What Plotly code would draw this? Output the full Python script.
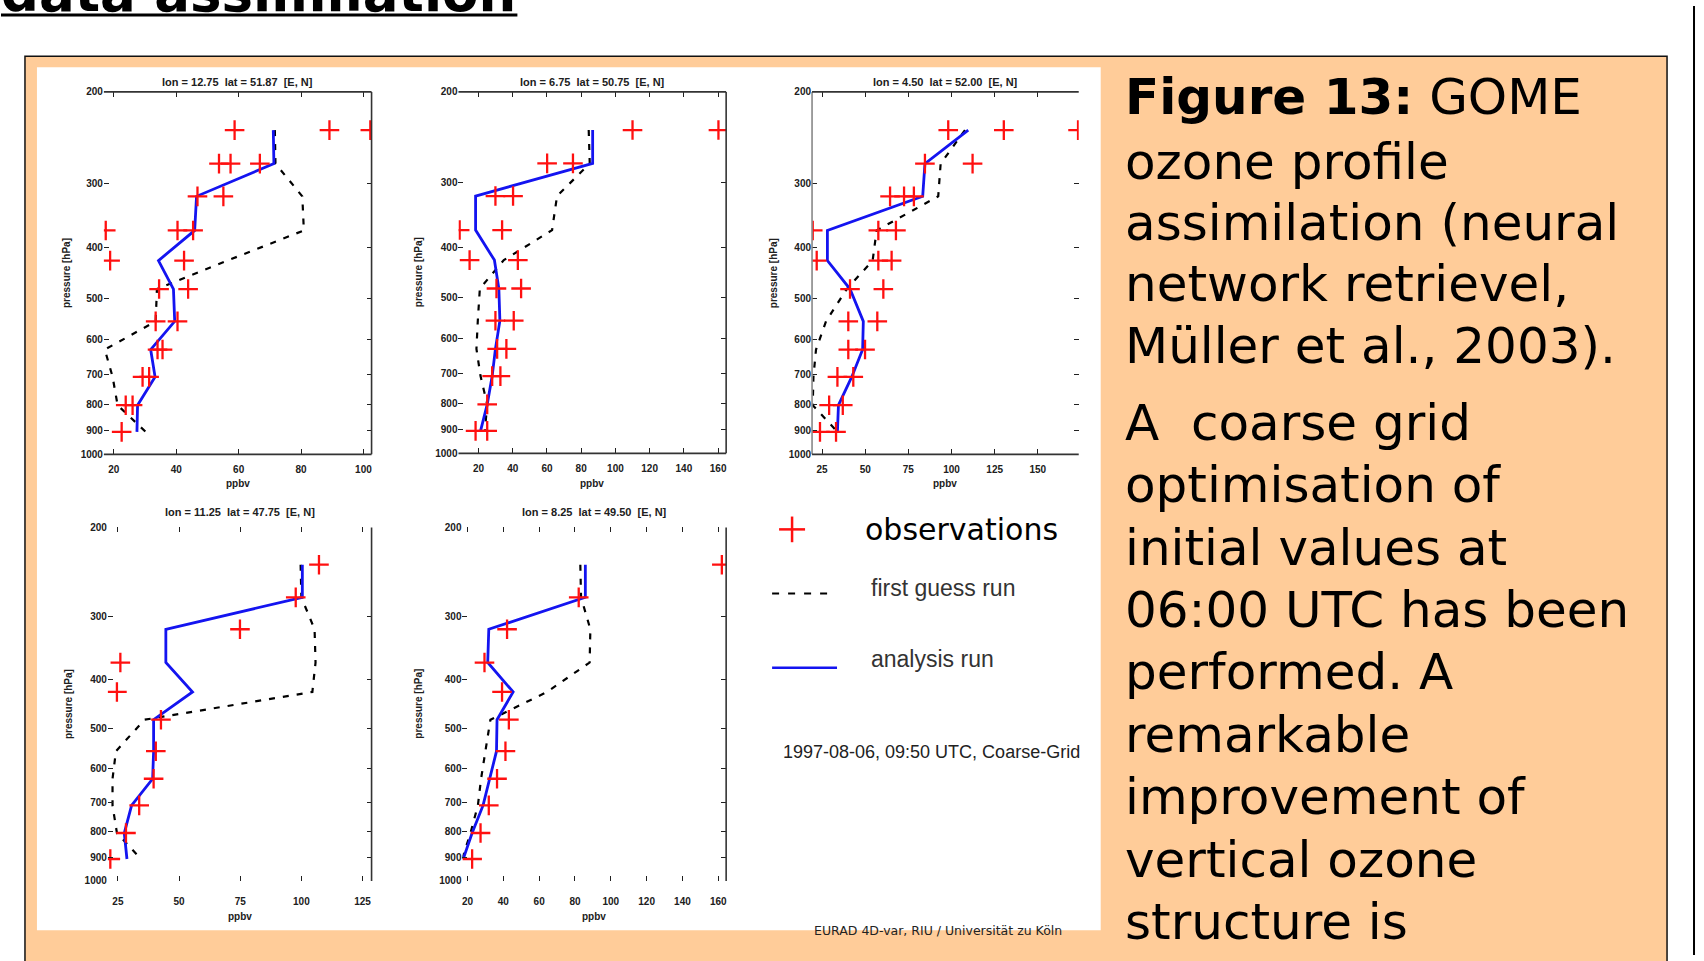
import plotly.graph_objects as go

W, H = 1704, 961

# model pressure levels [hPa], shared by all profiles
levels = [237, 275, 318, 370, 423, 480, 554, 628, 709, 804, 905]

# ---- profile 1 ----
p1_title = "lon = 12.75  lat = 51.87  [E, N]"
p1_analysis = [71.1, 71.3, 46.5, 45.9, 34.3, 39.1, 39.5, 31.8, 33.2, 27.6, 27.4]
p1_guess = [71.6, 71.8, 80.4, 80.9, 56.4, 33.8, 33.4, 17.1, 19.6, 21.2, 30.2]
p1_obs_p = [237, 237, 237, 275, 275, 275, 318, 318, 370, 370, 370, 423, 423,
            480, 480, 554, 554, 628, 628, 709, 709, 804, 804, 905]
p1_obs_v = [58.7, 89.1, 102.2, 53.7, 57.4, 66.8, 46.8, 55.1, 17.4, 40.4, 45.4,
            18.8, 42.5, 34.5, 43.8, 33.4, 40.4, 34.0, 35.6, 29.2, 31.3, 23.8,
            26.0, 22.5]
p1_xticks = [20, 40, 60, 80, 100]

# ---- profile 2 ----
p2_title = "lon = 6.75  lat = 50.75  [E, N]"
p2_analysis = [86.7, 86.7, 18.3, 18.3, 29.3, 31.9, 32.5, 29.9, 28.0, 25.1, 21.2]
p2_guess = [84.4, 85.0, 65.9, 63.0, 34.8, 20.8, 19.6, 18.8, 21.2, 25.1, 23.7]
p2_obs_p = [237, 237, 275, 275, 318, 318, 370, 370, 423, 423, 480, 480, 554,
            554, 628, 628, 709, 709, 804, 905, 905]
p2_obs_v = [110.0, 160.2, 60.1, 75.2, 29.9, 40.2, 9.0, 33.8, 14.8, 43.0, 30.5,
            44.9, 29.9, 40.6, 30.9, 36.3, 28.0, 32.8, 25.1, 18.3, 25.1]
p2_xticks = [20, 40, 60, 80, 100, 120, 140, 160]

# ---- profile 3 ----
p3_title = "lon = 4.50  lat = 52.00  [E, N]"
p3_analysis = [109.7, 84.6, 83.3, 28.1, 28.1, 41.2, 48.9, 48.5, 42.2, 34.5, 33.9]
p3_guess = [107.8, 93.7, 92.3, 56.6, 54.3, 39.3, 27.3, 21.5, 20.0, 19.6, 33.9]
p3_obs_p = [237, 237, 237, 275, 275, 318, 318, 318, 370, 370, 370, 423, 423,
            423, 480, 480, 554, 554, 628, 628, 709, 709, 804, 804, 905, 905]
p3_obs_v = [98.1, 130.3, 173.3, 84.6, 112.2, 64.4, 72.5, 78.2, 19.6, 57.6,
            67.8, 21.9, 57.6, 65.3, 41.2, 60.5, 40.2, 57.0, 40.2, 49.9, 33.9,
            43.1, 29.1, 37.0, 23.8, 33.1]
p3_xticks = [25, 50, 75, 100, 125, 150]

# ---- profile 4 ----
p4_title = "lon = 11.25  lat = 47.75  [E, N]"
p4_analysis = [100.4, 100.4, 44.6, 44.6, 55.5, 39.6, 39.6, 39.2, 30.6, 27.6, 28.7]
p4_guess = [99.7, 100.0, 105.4, 105.8, 104.5, 35.9, 24.2, 22.8, 22.8, 24.6, 34.4]
p4_obs_p = [237, 275, 318, 370, 423, 480, 554, 628, 709, 804, 905]
p4_obs_v = [107.2, 97.7, 74.9, 26.0, 24.6, 42.6, 40.5, 39.6, 33.7, 28.3, 21.9]
p4_xticks = [25, 50, 75, 100, 125]

# ---- profile 5 ----
p5_title = "lon = 8.25  lat = 49.50  [E, N]"
p5_analysis = [85.8, 85.8, 31.9, 31.3, 45.5, 36.5, 36.2, 32.5, 28.7, 22.6, 17.6]
p5_guess = [83.0, 83.4, 88.6, 88.2, 64.4, 32.8, 30.0, 27.6, 25.8, 21.7, 17.0]
p5_obs_p = [237, 275, 318, 370, 423, 480, 554, 628, 709, 804, 905]
p5_obs_v = [162.0, 82.1, 42.1, 29.5, 39.3, 43.1, 41.2, 36.5, 31.9, 27.3, 22.6]
p5_xticks = [20, 40, 60, 80, 100, 120, 140, 160]

p_ticks = [200, 300, 400, 500, 600, 700, 800, 900, 1000]

legend_labels = ["observations", "first guess run", "analysis run"]
run_label = "1997-08-06, 09:50 UTC, Coarse-Grid"
credit_label = "EURAD 4D-var, RIU / Universität zu Köln"

caption_lines = [
    "<b>Figure 13:</b> GOME",
    "ozone profile",
    "assimilation (neural",
    "network retrievel,",
    "Müller et al., 2003).",
    "A  coarse grid",
    "optimisation of",
    "initial values at",
    "06:00 UTC has been",
    "performed. A",
    "remarkable",
    "improvement of",
    "vertical ozone",
    "structure is",
]

RED = "#ff1010"
BLUE = "#1414f0"
INK = "#202020"


def fx(x):
    return x / W


def fy(y):
    return 1 - y / H


# panel boxes in pixels: (left, right, top, bottom), x range, frame sides
panels = [
    dict(box=(103, 371, 87, 454), xr=[16.8, 102.6], xt=p1_xticks, title=p1_title,
         a=p1_analysis, g=p1_guess, op=p1_obs_p, ov=p1_obs_v, sides="trb",
         ty=77, xlab_y=484, ylab_x=65, stand=8),
    dict(box=(458, 726, 87, 453), xr=[8.3, 164.7], xt=p2_xticks, title=p2_title,
         a=p2_analysis, g=p2_guess, op=p2_obs_p, ov=p2_obs_v, sides="trb",
         ty=77, xlab_y=484, ylab_x=418, stand=8),
    dict(box=(812, 1079, 87, 454), xr=[19.2, 173.7], xt=p3_xticks, title=p3_title,
         a=p3_analysis, g=p3_guess, op=p3_obs_p, ov=p3_obs_v, sides="ltb",
         ty=77, xlab_y=484, ylab_x=773, stand=8),
    dict(box=(107, 371, 528, 886), xr=[20.9, 128.7], xt=p4_xticks, title=p4_title,
         a=p4_analysis, g=p4_guess, op=p4_obs_p, ov=p4_obs_v, sides="r",
         ty=512, xlab_y=922, ylab_x=67, stand=13),
    dict(box=(462, 726, 528, 886), xr=[17.2, 164.4], xt=p5_xticks, title=p5_title,
         a=p5_analysis, g=p5_guess, op=p5_obs_p, ov=p5_obs_v, sides="r",
         ty=512, xlab_y=922, ylab_x=418, stand=13),
]

fig = go.Figure()
shapes = []
annotations = []
small = dict(family="Liberation Sans", size=10, color=INK, weight="bold")
title_font = dict(family="Liberation Sans", size=11, color=INK, weight="bold")


def note(text, x, y, xanchor="center", yanchor="middle", **kw):
    annotations.append(dict(text=text, xref="paper", yref="paper", x=fx(x), y=fy(y),
                            xanchor=xanchor, yanchor=yanchor, showarrow=False, **kw))


# slide background: peach frame with white figure panel
shapes.append(dict(type="rect", xref="paper", yref="paper", layer="below",
                   x0=fx(24), x1=fx(1668), y0=fy(975), y1=fy(51),
                   fillcolor="#ffcc99", line=dict(color="#111111", width=1.5)))
shapes.append(dict(type="rect", xref="paper", yref="paper", layer="below",
                   x0=fx(36), x1=fx(1101), y0=fy(936), y1=fy(62),
                   fillcolor="white", line=dict(width=0)))
shapes.append(dict(type="line", xref="paper", yref="paper",
                   x0=fx(1695), x1=fx(1695), y0=fy(0), y1=fy(961),
                   line=dict(color="black", width=2)))

# slide heading, mostly above the visible area
note("<b>data assimilation</b>", -2, 19, xanchor="left", yanchor="bottom",
     font=dict(family="DejaVu Sans", size=53, color="black"))
shapes.append(dict(type="line", xref="paper", yref="paper",
                   x0=fx(0), x1=fx(517), y0=fy(9), y1=fy(9),
                   line=dict(color="black", width=3)))

for i, pn in enumerate(panels, start=1):
    l, r, t, b = pn["box"]
    xa = "x" if i == 1 else f"x{i}"
    ya = "y" if i == 1 else f"y{i}"
    fig.add_trace(go.Scatter(x=pn["g"], y=levels, mode="lines", xaxis=xa, yaxis=ya,
                             line=dict(color="black", width=2.2, dash="6px,8px"),
                             showlegend=False))
    fig.add_trace(go.Scatter(x=pn["a"], y=levels, mode="lines", xaxis=xa, yaxis=ya,
                             line=dict(color=BLUE, width=2.8), showlegend=False))
    fig.add_trace(go.Scatter(x=pn["ov"], y=pn["op"], mode="markers", xaxis=xa, yaxis=ya,
                             marker=dict(symbol="cross-thin", size=14,
                                         line=dict(color=RED, width=2.3)),
                             showlegend=False))
    axis_common = dict(showgrid=False, zeroline=False, showline=False,
                       ticks="inside", ticklen=5, tickwidth=1.2, tickcolor=INK,
                       mirror="ticks", tickfont=small)
    fig.update_layout(**{
        ("xaxis" if i == 1 else f"xaxis{i}"): dict(
            domain=[fx(l), fx(r)], range=pn["xr"], tickvals=pn["xt"],
            anchor=ya, ticklabelstandoff=pn["stand"], **axis_common),
        ("yaxis" if i == 1 else f"yaxis{i}"): dict(
            domain=[fy(b), fy(t)], type="log", range=[3, 2.30103],
            tickvals=p_ticks, ticktext=[str(p) for p in p_ticks],
            anchor=xa, **axis_common),
    })
    # frame sides
    side_lines = {"l": (l, t, l, b), "r": (r, t, r, b), "t": (l, t, r, t), "b": (l, b, r, b)}
    for s in pn["sides"]:
        x0, y0, x1, y1 = side_lines[s]
        shapes.append(dict(type="line", xref="paper", yref="paper",
                           x0=fx(x0), x1=fx(x1), y0=fy(y0), y1=fy(y1),
                           line=dict(color="#333333" if s != "l" else "#888888", width=1.6)))
    cx = (l + r) / 2
    note(pn["title"], cx, pn["ty"], font=title_font)
    note("ppbv", cx, pn["xlab_y"], font=small)
    note("pressure [hPa]", pn["ylab_x"], (t + b) / 2, textangle=-90, font=small)

# legend cell
shapes.append(dict(type="line", xref="paper", yref="paper",
                   x0=fx(779), x1=fx(805), y0=fy(530), y1=fy(530),
                   line=dict(color=RED, width=2.5)))
shapes.append(dict(type="line", xref="paper", yref="paper",
                   x0=fx(792), x1=fx(792), y0=fy(517), y1=fy(543),
                   line=dict(color=RED, width=2.5)))
shapes.append(dict(type="line", xref="paper", yref="paper",
                   x0=fx(772), x1=fx(834), y0=fy(595), y1=fy(595),
                   line=dict(color="black", width=2, dash="7px,9px")))
shapes.append(dict(type="line", xref="paper", yref="paper",
                   x0=fx(772), x1=fx(837), y0=fy(670), y1=fy(670),
                   line=dict(color=BLUE, width=2.5)))
note(legend_labels[0], 863, 530, xanchor="left",
     font=dict(family="DejaVu Sans", size=30, color="black"))
note(legend_labels[1], 869, 589, xanchor="left",
     font=dict(family="Liberation Sans", size=23, color="#333333"))
note(legend_labels[2], 869, 661, xanchor="left",
     font=dict(family="Liberation Sans", size=23, color="#333333"))
note(run_label, 781, 755, xanchor="left",
     font=dict(family="Liberation Sans", size=18, color="#222222"))
note(credit_label, 812, 936, xanchor="left",
     font=dict(family="DejaVu Sans", size=12.5, color="#222222"))

# caption text on the right
line_y = [92, 158, 220, 282, 344] + [422 + 63.2 * k for k in range(9)]
for txt, yy in zip(caption_lines, line_y):
    note(txt, 1123, yy, xanchor="left",
         font=dict(family="DejaVu Sans", size=50, color="black"))

fig.update_layout(width=W, height=H, margin=dict(l=0, r=0, t=0, b=0),
                  paper_bgcolor="white", plot_bgcolor="rgba(0,0,0,0)",
                  shapes=shapes, annotations=annotations, showlegend=False)

fig.write_html("out.html")
